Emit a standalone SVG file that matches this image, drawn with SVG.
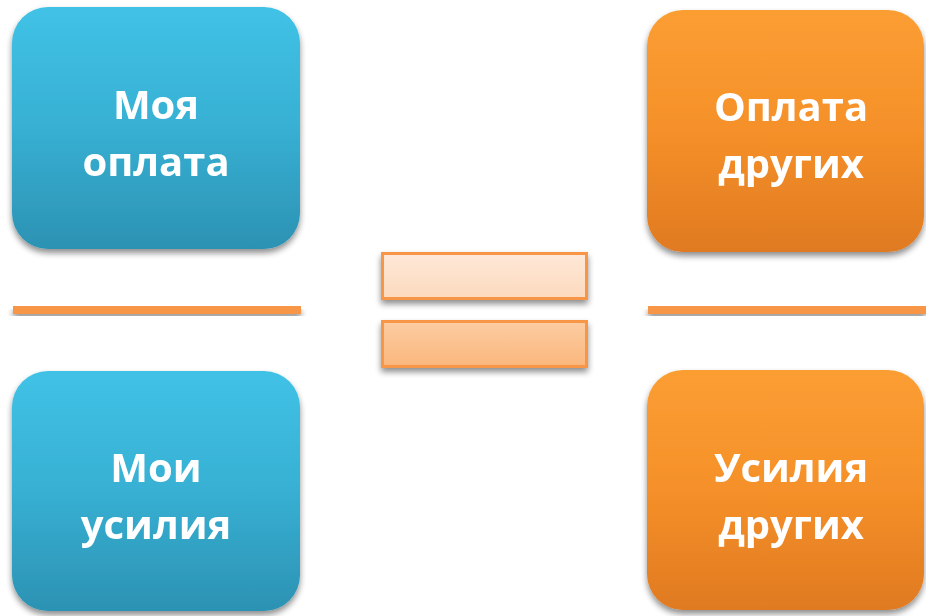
<svg xmlns="http://www.w3.org/2000/svg" width="926" height="616" viewBox="0 0 926 616">
<defs>
<linearGradient id="gBlue" x1="0" y1="0" x2="0" y2="1">
<stop offset="0" stop-color="#40C2E6"/>
<stop offset="0.5" stop-color="#37B0D3"/>
<stop offset="1" stop-color="#2C92B3"/>
</linearGradient>
<linearGradient id="gOrange" x1="0" y1="0" x2="0" y2="1">
<stop offset="0" stop-color="#FB9E33"/>
<stop offset="0.5" stop-color="#F59029"/>
<stop offset="1" stop-color="#E07A21"/>
</linearGradient>
<linearGradient id="gBar1" x1="0" y1="0" x2="0" y2="1">
<stop offset="0" stop-color="#FEE8D8"/>
<stop offset="1" stop-color="#FCDABD"/>
</linearGradient>
<linearGradient id="gBar2" x1="0" y1="0" x2="0" y2="1">
<stop offset="0" stop-color="#FCCCA2"/>
<stop offset="1" stop-color="#FAB77C"/>
</linearGradient>
<filter id="sh" x="-10%" y="-10%" width="120%" height="130%">
<feGaussianBlur in="SourceAlpha" stdDeviation="3"/>
<feOffset dx="0" dy="4" result="b"/>
<feComponentTransfer><feFuncA type="linear" slope="0.45"/></feComponentTransfer>
<feMerge><feMergeNode/><feMergeNode in="SourceGraphic"/></feMerge>
</filter>
</defs>
<style>
.lbl{font-family:"Open Sans","Noto Sans","DejaVu Sans",sans-serif;font-weight:bold;font-size:40px;fill:#FFFFFF;text-anchor:middle}
.bar{stroke:#F79646;stroke-width:3}
.line{fill:#F79646}
</style>
<g id="node-my-pay" filter="url(#sh)">
<rect x="12" y="7" width="288" height="242" rx="36" fill="url(#gBlue)"/>
<text class="lbl" x="156" y="119">Моя</text>
<text class="lbl" x="156" y="176">оплата</text>
</g>
<g id="node-my-effort" filter="url(#sh)">
<rect x="12" y="371" width="288" height="240" rx="36" fill="url(#gBlue)"/>
<text class="lbl" x="156" y="482">Мои</text>
<text class="lbl" x="156" y="539">усилия</text>
</g>
<g id="node-others-pay" filter="url(#sh)">
<rect x="647" y="10" width="277" height="242" rx="36" fill="url(#gOrange)"/>
<text class="lbl" x="791" y="121">Оплата</text>
<text class="lbl" x="791" y="178">других</text>
</g>
<g id="node-others-effort" filter="url(#sh)">
<rect x="647" y="370" width="277" height="240" rx="36" fill="url(#gOrange)"/>
<text class="lbl" x="791" y="482">Усилия</text>
<text class="lbl" x="791" y="539">других</text>
</g>
<g id="connectors">
<rect class="line" x="13" y="306" width="288" height="8" filter="url(#sh)"/>
<rect class="line" x="648" y="306" width="278" height="8" filter="url(#sh)"/>
</g>
<g id="node-equals" filter="url(#sh)">
<rect class="bar" x="382.5" y="253.5" width="204" height="45" fill="url(#gBar1)"/>
<rect class="bar" x="382.5" y="321.5" width="204" height="45" fill="url(#gBar2)"/>
</g>
</svg>
